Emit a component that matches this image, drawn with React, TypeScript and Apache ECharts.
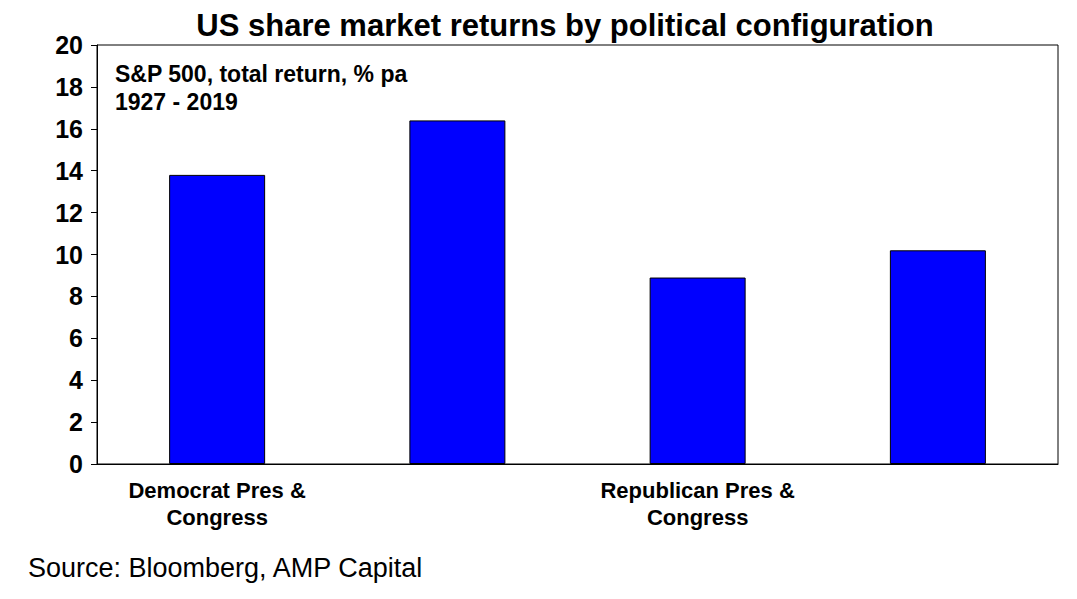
import React, { useEffect, useRef } from "react";
import * as echarts from "echarts";

const categories = ["Democrat Pres &\nCongress", "Democrat\nPres/divided gov", "Republican Pres &\nCongress", "Republican\nPres/divided gov"];
const returns = [13.8, 16.4, 8.9, 10.2];

export default function App() {
  const ref = useRef<HTMLDivElement>(null);
  useEffect(() => {
    const chart = echarts.init(ref.current!, null, { renderer: "svg" });
    const font = "Arial, 'Liberation Sans', sans-serif";
    chart.setOption({
      animation: false,
      title: { text: "US share market returns by political configuration", left: 560, top: 5, textAlign: "center",
        textStyle: { fontFamily: font, fontSize: 31, fontWeight: "bold", color: "#000" } },
      grid: { left: 97, right: 19, top: 45, bottom: 135, show: true, borderColor: "#000", borderWidth: 1 },
      xAxis: { type: "category", data: categories,
        axisLine: { lineStyle: { color: "#000" } }, axisTick: { show: false },
        axisLabel: { color: "#000", fontFamily: font, fontSize: 22, fontWeight: "bold", margin: 13, lineHeight: 27 } },
      yAxis: { type: "value", min: 0, max: 20, interval: 2, splitLine: { show: false },
        axisLine: { show: true, lineStyle: { color: "#000" } }, axisTick: { show: true, length: 6, lineStyle: { color: "#000" } },
        axisLabel: { color: "#000", fontFamily: font, fontSize: 25, fontWeight: "bold", margin: 14 } },
      series: [{ type: "bar", data: returns, barWidth: 96,
        itemStyle: { color: "#0000ff", borderColor: "#000", borderWidth: 1 } }],
      graphic: [
        { type: "text", left: 115, top: 60, style: { text: "S&P 500, total return, % pa\n1927 - 2019", fill: "#000", font: `bold 23px ${font}`, lineHeight: 28 } },
        { type: "text", left: 28, top: 554, style: { text: "Source: Bloomberg, AMP Capital", fill: "#000", font: `27px ${font}` } },
      ],
    });
    return () => chart.dispose();
  }, []);
  return <div ref={ref} style={{ width: 1077, height: 599, position: "absolute", left: 0, top: 0, background: "#fff" }} />;
}
